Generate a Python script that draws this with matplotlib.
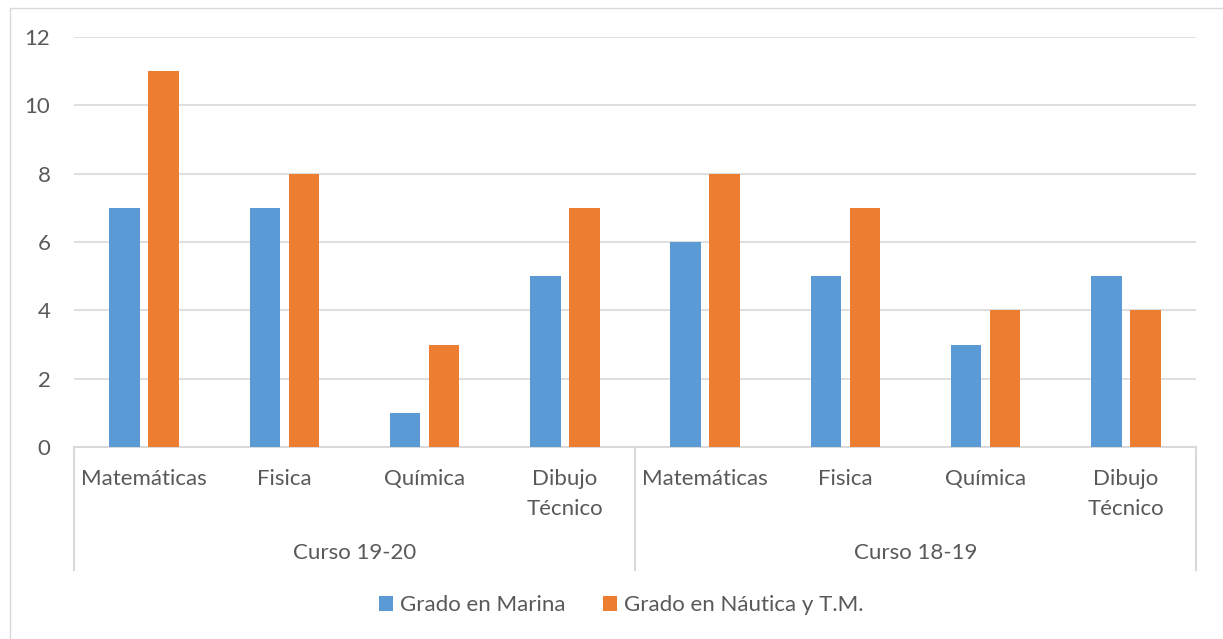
import matplotlib
matplotlib.use('Agg')
import matplotlib.pyplot as plt
import matplotlib.transforms as mtransforms
from matplotlib.patches import Rectangle
import numpy as np

plt.rcParams['font.family'] = ['Lato', 'DejaVu Sans']

courses = ["Curso 19-20", "Curso 18-19"]
subjects = ["Matemáticas", "Fisica", "Química", "Dibujo\nTécnico"]
marina = [7, 7, 1, 5, 6, 5, 3, 5]
nautica = [11, 8, 3, 7, 8, 7, 4, 4]
series_names = ["Grado en Marina", "Grado en Náutica y T.M."]

blue = '#5B9BD5'
orange = '#ED7D31'
txt = '#595959'
grid = '#D9D9D9'
fs = 16

W, H = 1223, 639
fig = plt.figure(figsize=(W / 100, H / 100), dpi=100)
ax = fig.add_axes([74 / W, 1 - 447 / H, (1196 - 74) / W, (447 - 37) / H])

# chart border
fig.patches.append(Rectangle((10 / W, -0.05), 1.2, 1 - 8 / H + 0.05, transform=fig.transFigure,
                             fill=False, edgecolor=grid, linewidth=1))

x = np.arange(len(marina))
bw = 0.217
off = 0.139
b1 = ax.bar(x - off, marina, width=bw, color=blue, zorder=3)
b2 = ax.bar(x + off, nautica, width=bw, color=orange, zorder=3)

ax.set_xlim(-0.5, len(marina) - 0.5)
ax.set_ylim(0, 12)
ax.set_yticks(range(0, 13, 2))
ax.yaxis.grid(True, color=grid, linewidth=1.2)
ax.set_axisbelow(True)
for s in ['top', 'right', 'left']:
    ax.spines[s].set_visible(False)
ax.spines['bottom'].set_color(grid)
ax.spines['bottom'].set_linewidth(1.5)
ax.tick_params(axis='y', length=0, pad=17, labelsize=fs, labelcolor=txt)
ax.set_xticks([])

trans = mtransforms.blended_transform_factory(ax.transData, ax.transAxes)
ah = 447 - 37


def ya(py):
    return -(py - 447) / ah


# category labels
labels = subjects * len(courses)
for i, lab in enumerate(labels):
    for j, line in enumerate(lab.split('\n')):
        ax.text(i, ya(479 + 30 * j), line, transform=trans, ha='center', va='center',
                fontsize=fs, color=txt)

# group separators and labels
n = len(subjects)
for k in range(len(courses) + 1):
    xs = k * n - 0.5
    ax.plot([xs, xs], [0, ya(570)], transform=trans, color=grid, linewidth=1.5, clip_on=False)
for k, c in enumerate(courses):
    ax.text(k * n + (n - 1) / 2, ya(553), c, transform=trans, ha='center', va='center',
            fontsize=fs, color=txt)

fig.legend([b1, b2], series_names, loc='center', bbox_to_anchor=(621 / W, 1 - 605 / H),
           ncol=2, frameon=False, fontsize=fs, labelcolor=txt, handlelength=0.65,
           handleheight=0.65, handletextpad=0.3, columnspacing=1.7)

fig.savefig('out.png', dpi=100)
